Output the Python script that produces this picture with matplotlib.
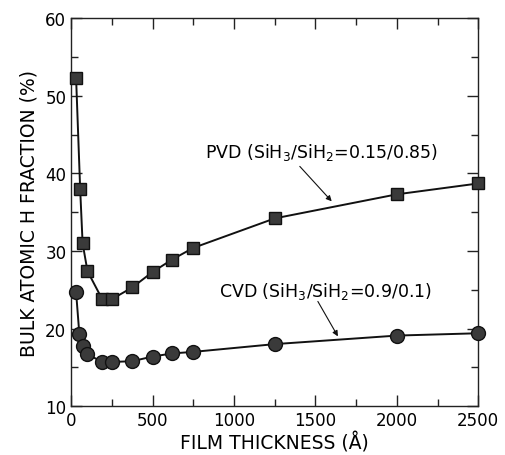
import matplotlib
matplotlib.use("Agg")
import matplotlib.pyplot as plt
from matplotlib.ticker import MultipleLocator

# PVD film (squares)
pvd_x = [30, 55, 70, 100, 190, 250, 375, 500, 620, 750, 1250, 2000, 2500]
pvd_y = [52.3, 38.0, 31.0, 27.4, 23.8, 23.8, 25.3, 27.3, 28.9, 30.4, 34.2, 37.3, 38.7]

# CVD film (circles)
cvd_x = [30, 50, 70, 100, 190, 250, 375, 500, 620, 750, 1250, 2000, 2500]
cvd_y = [24.7, 19.3, 17.7, 16.7, 15.7, 15.7, 15.8, 16.4, 16.8, 17.0, 18.0, 19.1, 19.4]

plt.rcParams['font.family'] = ['DejaVu Sans']

fig = plt.figure(figsize=(5.05, 4.56), dpi=100)
ax = fig.add_axes([0.141, 0.107, 0.806, 0.851])

ax.plot(pvd_x, pvd_y, color="#111111", lw=1.4, marker="s", ms=8.5,
        mfc="#3a3a3a", mec="#111111", mew=1.0, clip_on=False, zorder=3)
ax.plot(cvd_x, cvd_y, color="#111111", lw=1.4, marker="o", ms=10,
        mfc="#3a3a3a", mec="#111111", mew=1.0, clip_on=False, zorder=3)

ax.set_xlim(0, 2500)
ax.set_ylim(10, 60)
ax.xaxis.set_major_locator(MultipleLocator(500))
ax.xaxis.set_minor_locator(MultipleLocator(250))
ax.yaxis.set_major_locator(MultipleLocator(10))
ax.yaxis.set_minor_locator(MultipleLocator(5))
ax.tick_params(which="both", direction="in", top=True, right=True,
               labelsize=12, color="#222222")
ax.tick_params(which="major", length=8, width=1)
ax.tick_params(which="minor", length=5, width=1)
for s in ax.spines.values():
    s.set_linewidth(1.0)
    s.set_color("#222222")

ax.set_xlabel("FILM THICKNESS (Å)", fontsize=13.5, labelpad=2)
ax.set_ylabel("BULK ATOMIC H FRACTION (%)", fontsize=13.5, labelpad=5)

# labels and pointer arrows
ax.text(820, 42.1, r"PVD (SiH$_3$/SiH$_2$=0.15/0.85)", fontsize=12.5,
        ha="left", va="baseline")
ax.text(910, 24.2, r"CVD (SiH$_3$/SiH$_2$=0.9/0.1)", fontsize=12.5,
        ha="left", va="baseline")
arrow = dict(arrowstyle="-|>", color="#111111", lw=0.8,
             shrinkA=0, shrinkB=0, mutation_scale=8)
ax.annotate("", xy=(1600, 36.4), xytext=(1404, 40.9), arrowprops=arrow)
ax.annotate("", xy=(1638, 19.0), xytext=(1515, 23.5), arrowprops=arrow)

fig.savefig("out.png", dpi=100)
